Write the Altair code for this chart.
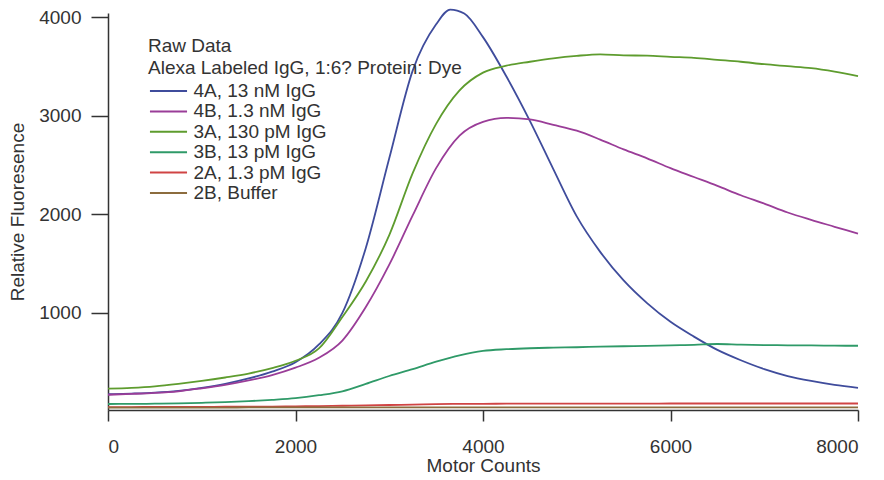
import altair as alt
import pandas as pd

# ---- data ----
series_names = ["4A, 13 nM IgG", "4B, 1.3 nM IgG", "3A, 130 pM IgG",
                "3B, 13 pM IgG", "2A, 1.3 pM IgG", "2B, Buffer"]
series_colors = ["#3f4c9c", "#9a3d98", "#5e9c2e", "#2f9a68", "#d04444", "#8c6c3e"]

x_grid = [0, 250, 500, 750, 1000, 1250, 1500, 1750, 2000, 2250, 2500, 2750,
          3000, 3250, 3500, 3750, 4000, 4250, 4500, 4750, 5000, 5250, 5500,
          5750, 6000, 6250, 6500, 6750, 7000, 7250, 7500, 7750, 8000]

x_4a = [0, 250, 500, 750, 1000, 1250, 1500, 1750, 2000, 2250, 2500, 2750,
        3000, 3250, 3500, 3650, 3800, 4000, 4250, 4500, 4750, 5000, 5250,
        5500, 5750, 6000, 6250, 6500, 6750, 7000, 7250, 7500, 7750, 8000]
y_4a = [175, 182, 192, 210, 240, 280, 335, 405, 500, 680, 1000, 1660,
        2570, 3460, 3930, 4080, 4040, 3800, 3400, 2950, 2460, 1980, 1620,
        1330, 1100, 910, 760, 625, 520, 430, 360, 310, 270, 240]

y_4b = [170, 178, 188, 205, 235, 270, 315, 370, 445, 545, 720, 1060,
        1490, 1990, 2470, 2800, 2940, 2980, 2965, 2910, 2850, 2760, 2660,
        2570, 2470, 2380, 2290, 2195, 2110, 2020, 1945, 1875, 1805]

y_3a = [232, 240, 255, 280, 310, 345, 385, 440, 515, 640, 960, 1320,
        1790, 2420, 2920, 3260, 3440, 3510, 3550, 3585, 3610, 3625, 3615,
        3612, 3600, 3590, 3570, 3550, 3525, 3505, 3485, 3450, 3405]

y_3b = [76, 77, 79, 83, 88, 95, 105, 118, 135, 165, 205, 280,
        360, 430, 505, 570, 615, 632, 642, 648, 652, 658, 662,
        666, 672, 676, 685, 678, 674, 672, 670, 668, 667]

y_2a = [45, 45, 46, 46, 47, 48, 49, 50, 52, 55, 58, 62,
        66, 70, 74, 77, 78, 79, 79, 80, 80, 80, 80,
        80, 81, 81, 81, 81, 81, 81, 81, 81, 81]

y_2b = [40, 40, 40, 40, 40, 40, 41, 41, 41, 41, 41, 41,
        42, 42, 42, 42, 42, 42, 42, 42, 42, 42, 42,
        42, 42, 42, 42, 42, 42, 42, 42, 42, 42]

x_ticks = [0, 2000, 4000, 6000, 8000]
y_ticks = [1000, 2000, 3000, 4000]

# ---- long table ----
rows = []
for x, y in zip(x_4a, y_4a):
    rows.append({"x": x, "y": y, "s": series_names[0]})
for name, ys in zip(series_names[1:], [y_4b, y_3a, y_3b, y_2a, y_2b]):
    for x, y in zip(x_grid, ys):
        rows.append({"x": x, "y": y, "s": name})
df = pd.DataFrame(rows)

FONT = "Liberation Sans"
TXT = "#333333"

chart = alt.Chart(df).mark_line(strokeWidth=1.8, interpolate="monotone", clip=False).encode(
    x=alt.X("x:Q",
            scale=alt.Scale(domain=[0, 8000], nice=False, zero=False),
            axis=alt.Axis(values=x_ticks, format="d", title="Motor Counts",
                          grid=False, tickSize=11, labelPadding=16, titlePadding=0,
                          labelFontSize=19, titleFontSize=19, titleFontWeight="normal",
                          labelFont=FONT, titleFont=FONT, labelColor=TXT, titleColor=TXT,
                          domainColor="#333333", tickColor="#333333",
                          domainWidth=1.5, tickWidth=1.5)),
    y=alt.Y("y:Q",
            scale=alt.Scale(domain=[15, 4045], nice=False, zero=False),
            axis=alt.Axis(values=y_ticks, format="d", title="Relative Fluoresence",
                          grid=False, tickSize=17, labelPadding=10, titlePadding=11,
                          labelFontSize=19, titleFontSize=19, titleFontWeight="normal",
                          labelFont=FONT, titleFont=FONT, labelColor=TXT, titleColor=TXT,
                          domainColor="#333333", tickColor="#333333",
                          domainWidth=1.5, tickWidth=1.5)),
    color=alt.Color("s:N",
                    scale=alt.Scale(domain=series_names, range=series_colors),
                    sort=series_names,
                    legend=alt.Legend(orient="none", legendX=40, legendY=24,
                                      title=["Raw Data", "Alexa Labeled IgG, 1:6? Protein: Dye"],
                                      titleFontSize=19, titleFontWeight="normal", titleFont=FONT,
                                      titleColor=TXT, titleLineHeight=22, titlePadding=3,
                                      labelFontSize=19, labelFont=FONT, labelColor=TXT,
                                      symbolType="M-2.06,0H2.06", symbolSize=324,
                                      symbolStrokeWidth=2, symbolOffset=10.5, labelOffset=15,
                                      rowPadding=0.4, padding=0, labelLimit=400, titleLimit=600)),
).properties(
    width=750, height=397,
    autosize=alt.AutoSizeParams(type="none"),
    padding={"left": 100, "top": 5, "right": 10, "bottom": 66},
).configure(background="white").configure_view(strokeWidth=0, stroke=None)

chart.save("out.html", embed_options={"renderer": "svg", "actions": False})
